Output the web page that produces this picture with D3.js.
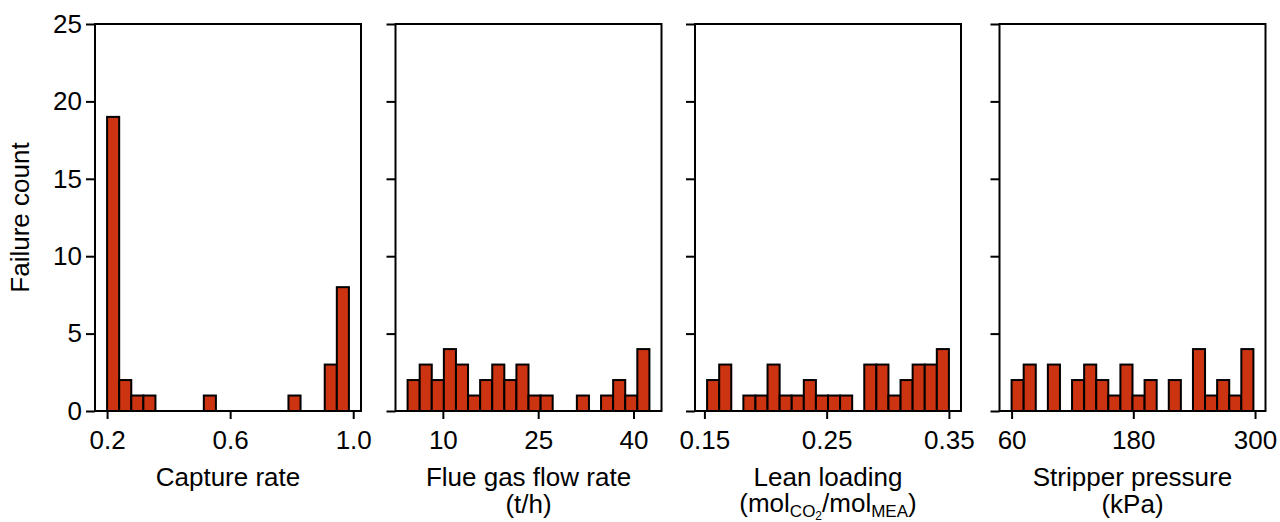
<!DOCTYPE html>
<html>
<head>
<meta charset="utf-8">
<title>Failure count histograms</title>
<script src="https://d3js.org/d3.v7.min.js"></script>
<style>
  body { margin: 0; background: #fff; }
  text { font-family: "Liberation Sans", Arial, sans-serif; fill: #000; }
</style>
</head>
<body>
<div id="chart"></div>
<script>
// histogram counts, 20 bins per variable
var captureCounts = [19, 2, 1, 1, 0, 0, 0, 0, 1, 0, 0, 0, 0, 0, 0, 1, 0, 0, 3, 8];
var flueCounts    = [2, 3, 2, 4, 3, 1, 2, 3, 2, 3, 1, 1, 0, 0, 1, 0, 1, 2, 1, 4];
var leanCounts    = [2, 3, 0, 1, 1, 3, 1, 1, 2, 1, 1, 1, 0, 3, 3, 1, 2, 3, 3, 4];
var stripCounts   = [2, 3, 0, 3, 0, 2, 3, 2, 1, 3, 1, 2, 0, 2, 0, 4, 1, 2, 1, 4];

// bin edges: [min, max] of the sampled values
var captureRange = [0.2, 0.986];
var flueRange    = [4.45, 42.5];
var leanRange    = [0.1522, 0.35];
var stripRange   = [60, 298.4];

var captureTicks = [0.2, 0.6, 1.0];
var flueTicks    = [10, 25, 40];
var leanTicks    = [0.15, 0.25, 0.35];
var stripTicks   = [60, 180, 300];

var yTicks = [0, 5, 10, 15, 20, 25];

var panels = [
  {counts: captureCounts, range: captureRange, ticks: captureTicks, fmt: d3.format(".1f"), label: ["Capture rate"]},
  {counts: flueCounts, range: flueRange, ticks: flueTicks, fmt: d3.format("d"), label: ["Flue gas flow rate", "(t/h)"]},
  {counts: leanCounts, range: leanRange, ticks: leanTicks, fmt: d3.format(".2f"), label: ["Lean loading", "lean"]},
  {counts: stripCounts, range: stripRange, ticks: stripTicks, fmt: d3.format("d"), label: ["Stripper pressure", "(kPa)"]}
];

var W = 1280, H = 522;
var plotTop = 24, plotBottom = 411, pw = 266;
var lefts = [95, 395.5, 695, 999.5];
var fs = 26;

var svg = d3.select("#chart").append("svg")
  .attr("width", W).attr("height", H);

var y = d3.scaleLinear().domain([0, 25]).range([plotBottom, plotTop]);

panels.forEach(function(p, i) {
  var n = p.counts.length;
  var bw = (p.range[1] - p.range[0]) / n;
  var pad = (p.range[1] - p.range[0]) * 0.05;
  var x = d3.scaleLinear()
    .domain([p.range[0] - pad, p.range[1] + pad])
    .range([lefts[i], lefts[i] + pw]);

  var g = svg.append("g");

  var bins = p.counts.map(function(c, k) {
    return {x0: p.range[0] + k * bw, x1: p.range[0] + (k + 1) * bw, c: c};
  }).filter(function(b) { return b.c > 0; });

  g.selectAll("rect.bar")
    .data(bins)
    .enter().append("rect")
      .attr("class", "bar")
      .attr("x", function(d) { return x(d.x0); })
      .attr("width", function(d) { return x(d.x1) - x(d.x0); })
      .attr("y", function(d) { return y(d.c); })
      .attr("height", function(d) { return y(0) - y(d.c); })
      .attr("fill", "#CC3311")
      .attr("stroke", "#000")
      .attr("stroke-width", 2);

  // frame
  g.append("rect")
    .attr("x", lefts[i]).attr("y", plotTop)
    .attr("width", pw).attr("height", plotBottom - plotTop)
    .attr("fill", "none").attr("stroke", "#000").attr("stroke-width", 2);

  var xAxis = d3.axisBottom(x).tickValues(p.ticks).tickFormat(p.fmt)
    .tickSize(8).tickPadding(12);
  var ax = g.append("g").attr("transform", "translate(0," + plotBottom + ")").call(xAxis);
  ax.select(".domain").remove();
  ax.selectAll("line").attr("stroke-width", 2);
  ax.selectAll("text").style("font-size", fs + "px");

  var yAxis = d3.axisLeft(y).tickValues(yTicks).tickSize(9).tickPadding(4)
    .tickFormat(i === 0 ? d3.format("d") : "");
  var ay = g.append("g").attr("transform", "translate(" + lefts[i] + ",0)").call(yAxis);
  ay.select(".domain").remove();
  ay.selectAll("line").attr("stroke-width", 2);
  ay.selectAll("text").style("font-size", fs + "px");

  var cx = lefts[i] + pw / 2;
  g.append("text").attr("x", cx).attr("y", 486)
    .attr("text-anchor", "middle").style("font-size", fs + "px")
    .text(p.label[0]);
  if (p.label[1] === "lean") {
    var t = g.append("text").attr("x", cx).attr("y", 512)
      .attr("text-anchor", "middle").style("font-size", fs + "px");
    t.append("tspan").text("(mol");
    t.append("tspan").attr("dy", 5).style("font-size", "17px").text("CO");
    t.append("tspan").attr("dy", 3).style("font-size", "12px").text("2");
    t.append("tspan").attr("dy", -8).text("/mol");
    t.append("tspan").attr("dy", 5).style("font-size", "17px").text("MEA");
    t.append("tspan").attr("dy", -5).text(")");
  } else if (p.label[1]) {
    g.append("text").attr("x", cx).attr("y", 513)
      .attr("text-anchor", "middle").style("font-size", fs + "px")
      .text(p.label[1]);
  }
});

svg.append("text")
  .attr("transform", "translate(29," + ((plotTop + plotBottom) / 2) + ") rotate(-90)")
  .attr("text-anchor", "middle").style("font-size", fs + "px")
  .text("Failure count");
</script>
</body>
</html>
